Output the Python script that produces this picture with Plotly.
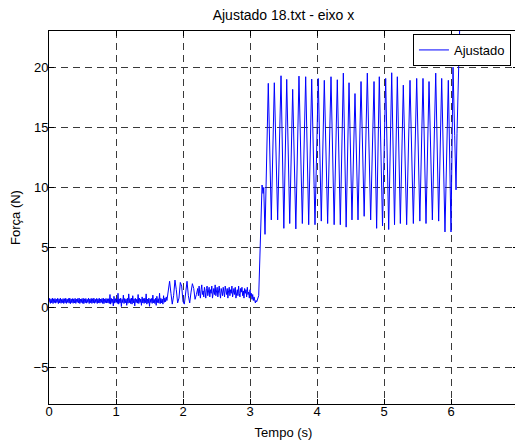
import plotly.graph_objects as go

# ---- data ----
# low-force part: each block is sampled at a fixed step from its start time
rest_start, rest_step = 0.00, 0.01
force_rest = [0.45, 0.78, 0.36, 0.72, 0.41, 0.8, 0.35, 0.74, 0.43, 0.77,
              0.38, 0.71, 0.44, 0.79, 0.34, 0.73, 0.4, 0.8, 0.37, 0.7,
              0.42, 0.76, 0.35, 0.75, 0.41, 0.79, 0.36, 0.72, 0.44, 0.77,
              0.38, 0.8, 0.34, 0.73, 0.42, 0.76, 0.37, 0.74, 0.4, 0.78,
              0.36, 0.71, 0.45, 0.77, 0.39, 0.8, 0.35, 0.72, 0.43, 0.75,
              0.37, 0.79, 0.34, 0.74, 0.41, 0.77, 0.38, 0.7, 0.44, 0.8,
              0.35, 0.73, 0.42, 0.78, 0.36, 0.75, 0.4, 0.8, 0.37, 0.71,
              0.43, 0.77, 0.35, 0.74, 0.41, 0.79, 0.38, 0.72, 0.44, 0.76,
              0.36, 0.8, 0.34, 0.73, 0.42, 0.77, 0.39, 0.75]
touch_start, touch_step = 0.88, 0.01
force_touch = [0.4, 0.75, 0.35, 1.1, 0.3, 0.78, 0.42, 0.72, 0.15, 0.95,
               0.38, 0.76, 0.44, 0.7, 0.36, 1.2, 0.3, 0.74, 0.4, 0.8,
               0.1, 0.7, 0.43, 1.05, 0.35, 0.77, 0.41, 0.72, 0.2, 0.79,
               0.37, 1.15, 0.42, 0.75, 0.34, 0.8, 0.3, 1.0, 0.4, 0.74,
               0.15, 0.78, 0.43, 0.71, 0.38, 1.1, 0.35, 0.8, 0.44, 0.73,
               0.2, 0.9, 0.4, 0.76, 0.36, 0.79, 0.42, 1.15, 0.3, 0.72,
               0.38, 0.8, 0.12, 0.74, 0.44, 0.77, 0.36, 1.05, 0.41, 0.7,
               0.35, 0.79, 0.2, 0.95, 0.43, 0.75, 0.38, 1.2, 0.34, 0.78,
               0.4, 0.72, 0.3, 1.0, 0.45, 0.8, 0.5, 0.9]
start_start, start_step = 1.76, 0.02
force_start = [0.6, 1.4, 2.2, 1.2, 0.3, 1.0, 2.3, 1.5, 0.4, 0.8,
               2.1, 1.8, 0.5, 0.3, 1.6, 2.2, 1.0, 0.4, 1.3, 2.0,
               1.6, 0.7, 1.1]
light_start, light_step = 2.22, 0.01
force_light = [1.6, 1.0, 1.8, 1.2, 0.8, 1.5, 1.9, 1.1, 1.4, 0.9,
               1.7, 1.3, 0.8, 1.6, 1.8, 1.0, 1.3, 1.7, 0.9, 1.5,
               1.2, 1.8, 0.8, 1.4, 1.6, 1.1, 1.9, 1.0, 1.3, 1.7,
               0.9, 1.5, 1.8, 1.2, 0.8, 1.6, 1.4, 1.0, 1.7, 1.3,
               0.9, 1.8, 1.5, 1.1, 1.6, 0.8, 1.4, 1.7, 1.0, 1.5,
               1.2, 1.8, 0.9, 1.3, 1.6, 1.1, 1.7, 0.8, 1.4, 1.5,
               1.0, 1.8, 1.2, 0.9, 1.6, 1.3, 1.7, 1.0, 1.4, 0.8,
               1.6, 1.2, 1.5, 0.9, 1.7, 1.1, 1.3, 0.8, 1.5, 1.0,
               1.2, 0.7, 1.1, 0.6, 0.9, 0.5, 0.4, 0.6]

# high-force part: times (s) and forces (N) at the turning points
t_jump = [3.10, 3.13, 3.165, 3.18, 3.195, 3.205, 3.224]
f_jump = [0.5, 1.0, 9.0, 10.2, 9.5, 10.0, 6.1]

t_peaks = [3.273, 3.363, 3.463, 3.548, 3.637, 3.731, 3.831, 3.921, 4.019, 4.109,
           4.209, 4.303, 4.393, 4.478, 4.567, 4.657, 4.751, 4.851, 4.930, 5.025,
           5.115, 5.199, 5.288, 5.388, 5.488, 5.582, 5.672, 5.772, 5.861, 5.960]
f_peaks = [18.65, 18.7, 19.28, 18.98, 18.15, 19.25, 19.2, 19.0, 19.05, 18.9,
           19.2, 18.95, 19.5, 18.7, 17.8, 18.8, 19.5, 18.8, 19.2, 19.06,
           19.53, 19.2, 18.5, 18.9, 19.06, 19.06, 18.8, 19.5, 19.06, 18.9]
t_troughs = [3.318, 3.413, 3.505, 3.593, 3.684, 3.781, 3.876, 3.970, 4.064, 4.159,
             4.256, 4.348, 4.435, 4.522, 4.612, 4.704, 4.801, 4.890, 4.978, 5.070,
             5.157, 5.244, 5.338, 5.438, 5.535, 5.627, 5.722, 5.816, 5.910, 6.000]
f_troughs = [7.3, 7.3, 6.6, 7.0, 6.55, 7.0, 6.9, 6.9, 7.2, 7.0,
             6.9, 6.9, 6.7, 7.3, 7.3, 7.6, 7.3, 6.6, 6.8, 6.5,
             6.9, 7.0, 6.9, 7.0, 7.2, 7.0, 7.3, 7.2, 6.3, 6.3]

t_end = [6.03, 6.055, 6.075, 6.09, 6.13, 6.16]
f_end = [20.0, 14.3, 9.8, 14.5, 24.0, 30.0]

x_ticks = [0, 1, 2, 3, 4, 5, 6, 7]
y_ticks = [-5, 0, 5, 10, 15, 20]

# ---- assemble the series ----
t, f = [], []
for start, step, vals in [(rest_start, rest_step, force_rest),
                          (touch_start, touch_step, force_touch),
                          (start_start, start_step, force_start),
                          (light_start, light_step, force_light)]:
    t += [start + i * step for i in range(len(vals))]
    f += vals
t += t_jump
f += f_jump
for tp, fp, tt, ft in zip(t_peaks, f_peaks, t_troughs, f_troughs):
    t += [tp, tt]
    f += [fp, ft]
t += t_end
f += f_end

FONT = "Liberation Sans, Arial, Helvetica, sans-serif"

fig = go.Figure()
fig.add_trace(go.Scatter(x=t, y=f, mode="lines", name="Ajustado",
                         line=dict(color="#0000ff", width=1)))

axis_common = dict(
    showline=True, linecolor="black", linewidth=1, mirror="ticks",
    ticks="inside", ticklen=5, tickcolor="black", tickwidth=1,
    showgrid=True, gridcolor="#3a3a3a", gridwidth=1, griddash="7px,5px",
    zeroline=False, automargin=False,
    tickfont=dict(family=FONT, size=13, color="black"),
)

# the page adds an 8px body margin, so the figure is 8px smaller
W, H = 515, 436
fig.update_layout(
    width=W, height=H,
    margin=dict(l=41, r=5, t=23, b=40),
    paper_bgcolor="white", plot_bgcolor="white",
    font=dict(family=FONT, size=13, color="black"),
    title=dict(text="Ajustado 18.txt - eixo x", x=0.5, xref="paper",
               xanchor="center", y=1 - 7 / H, yanchor="middle",
               yref="container", automargin=False,
               font=dict(family=FONT, size=14, color="black")),
    xaxis=dict(range=[0, 7], tickvals=x_ticks, ticklabelstandoff=-5,
               title=dict(text="Tempo (s)", standoff=10,
                          font=dict(family=FONT, size=13)),
               **axis_common),
    yaxis=dict(range=[-8, 23], tickvals=y_ticks, ticklabelstandoff=-3,
               title=dict(text="Força (N)", standoff=10,
                          font=dict(family=FONT, size=13)),
               **axis_common),
    showlegend=True,
    legend=dict(x=0.985, xanchor="right", y=0.992, yanchor="top",
                bgcolor="white", bordercolor="black", borderwidth=1,
                font=dict(family=FONT, size=13, color="black"),
                itemwidth=30, tracegroupgap=0),
)

fig.write_html("out.html")
